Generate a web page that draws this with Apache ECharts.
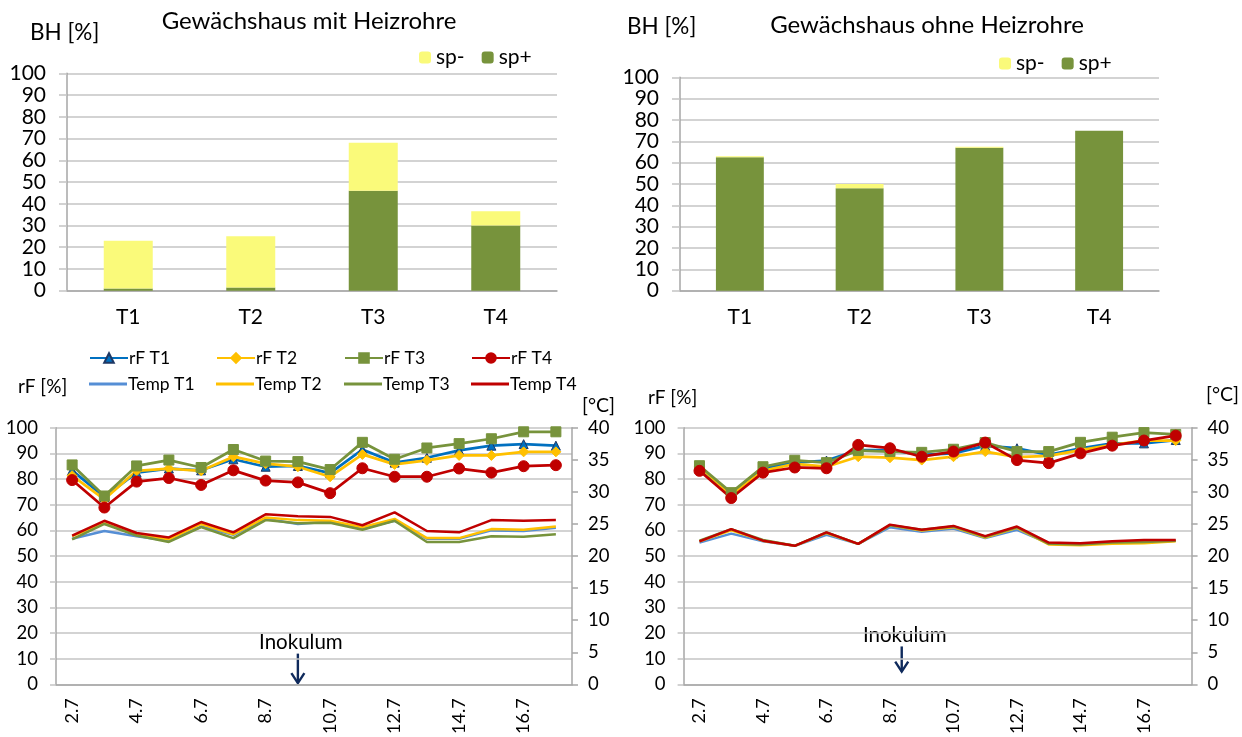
<!DOCTYPE html>
<html>
<head>
<meta charset="utf-8">
<script src="https://cdn.jsdelivr.net/npm/echarts@6/dist/echarts.min.js"></script>
<style>
html, body { margin: 0; padding: 0; background: #fff; }
#main { width: 1242px; height: 737px; }
</style>
</head>
<body>
<div id="main"></div>
<script>
// Befallshäufigkeit (BH) je Behandlung
const behandlungen = ['T1', 'T2', 'T3', 'T4']
const spPlusMit = [1, 1.5, 46, 30]
const spMinusMit = [22, 23.5, 22, 6.5]
const spPlusOhne = [62.5, 48, 67, 75]
const spMinusOhne = [0.5, 2, 0.5, 0]

// Tage
const tage = ['2.7', '3.7', '4.7', '5.7', '6.7', '7.7', '8.7', '9.7', '10.7', '11.7', '12.7', '13.7', '14.7', '15.7', '16.7', '17.7']

// mit Heizrohre
const rfT1Mit = [83.4, 73.0, 82.5, 84.1, 83.4, 87.7, 84.8, 85.1, 82.3, 91.5, 86.4, 88.3, 91.2, 93.0, 93.6, 93.0]
const rfT2Mit = [81.3, 72.1, 83.2, 84.1, 83.2, 88.7, 86.0, 84.8, 80.9, 89.6, 85.7, 87.3, 89.2, 89.2, 90.6, 90.6]
const rfT3Mit = [85.5, 73.4, 85.1, 87.4, 84.5, 91.5, 87.0, 86.8, 83.7, 94.3, 87.7, 92.1, 93.8, 95.7, 98.4, 98.4]
const rfT4Mit = [79.6, 68.9, 79.0, 80.4, 77.7, 83.4, 79.4, 78.7, 74.5, 84.2, 80.9, 80.9, 84.1, 82.5, 85.0, 85.4]
const tempT1Mit = [22.7, 23.9, 23.1, 22.4, 24.6, 23.3, 25.8, 25.0, 25.4, 24.3, 25.5, 22.7, 22.7, 24.0, 23.9, 24.4]
const tempT2Mit = [23.1, 25.1, 23.3, 22.6, 25.0, 23.4, 26.0, 25.6, 25.5, 24.5, 25.8, 22.8, 22.8, 24.2, 24.1, 24.6]
const tempT3Mit = [22.6, 25.0, 23.2, 22.2, 24.5, 22.8, 25.6, 25.1, 25.2, 24.1, 25.5, 22.2, 22.2, 23.1, 23.0, 23.4]
const tempT4Mit = [23.2, 25.5, 23.6, 22.9, 25.3, 23.7, 26.5, 26.2, 26.1, 24.8, 26.8, 23.9, 23.7, 25.6, 25.5, 25.6]

// ohne Heizrohre
const rfT1Ohne = [84.2, 74.1, 84.2, 86.4, 87.2, 91.3, 91.3, 89.4, 90.0, 92.9, 92.0, 89.4, 92.0, 93.9, 93.9, 95.2]
const rfT2Ohne = [84.8, 73.8, 83.2, 85.9, 84.8, 88.7, 88.3, 87.4, 88.7, 90.7, 88.5, 89.0, 91.3, 93.3, 95.0, 95.0]
const rfT3Ohne = [85.2, 74.7, 84.8, 87.3, 86.4, 91.1, 90.7, 90.4, 91.6, 94.2, 90.7, 90.7, 94.3, 96.3, 98.1, 97.4]
const rfT4Ohne = [83.2, 72.6, 82.5, 84.5, 84.2, 93.3, 92.0, 88.7, 90.7, 94.2, 87.4, 86.2, 90.0, 93.0, 95.0, 96.9]
const tempT1Ohne = [22.1, 23.5, 22.3, 21.6, 23.3, 21.9, 24.5, 23.8, 24.3, 22.8, 24.1, 22.0, 21.9, 22.1, 22.2, 22.4]
const tempT2Ohne = [22.3, 24.0, 22.4, 21.6, 23.6, 21.9, 24.8, 24.0, 24.5, 22.9, 24.4, 21.8, 21.7, 21.9, 22.0, 22.3]
const tempT3Ohne = [22.4, 24.2, 22.5, 21.6, 23.7, 21.9, 24.8, 24.1, 24.6, 23.0, 24.5, 21.9, 21.8, 22.1, 22.2, 22.4]
const tempT4Ohne = [22.3, 24.2, 22.4, 21.6, 23.7, 21.9, 24.9, 24.1, 24.7, 23.1, 24.6, 22.1, 22.0, 22.3, 22.5, 22.5]

// Inokulum: Tag und Lage zwischen den Kategorien (Anteil zum nächsten Tag)
const inokulum = [
  { tag: '9.7', frac: 0, von: 12, bis: 0.5 },
  { tag: '8.7', frac: 0.37, von: 14.8, bis: 5 },
]

const FONT = 'Lato, "Open Sans", sans-serif'
const GELB = '#FAFA7A'
const OLIV = '#77933C'
const BLAU = '#0070C0'
const HELLBLAU = '#558ED5'
const ORANGE = '#FFC000'
const ROT = '#C00000'
const GRID_LINE = '#C4C4C4'
const AXIS_LINE = '#A6A6A6'

const chart = echarts.init(document.getElementById('main'))

function barX(idx) {
  return {
    type: 'category',
    gridIndex: idx,
    data: behandlungen,
    axisLine: { lineStyle: { color: AXIS_LINE, width: 1.5 } },
    axisTick: { length: 7, lineStyle: { color: AXIS_LINE, width: 1.5 } },
    axisLabel: { color: '#000', fontFamily: FONT, fontSize: 21, margin: 16 },
  }
}
function barY(idx) {
  return {
    type: 'value',
    gridIndex: idx,
    min: 0,
    max: 100,
    interval: 10,
    axisLine: { show: true, lineStyle: { color: AXIS_LINE, width: 1.5 } },
    axisTick: { show: true, length: 8, lineStyle: { color: GRID_LINE, width: 1.5 } },
    splitLine: { lineStyle: { color: GRID_LINE, width: 1.5 } },
    axisLabel: { color: '#000', fontFamily: FONT, fontSize: 21, margin: 21 },
  }
}
function lineX(idx) {
  return {
    type: 'category',
    gridIndex: idx,
    data: tage,
    boundaryGap: true,
    axisLine: { lineStyle: { color: AXIS_LINE, width: 1.5 } },
    axisTick: { interval: 1, length: 7, lineStyle: { color: AXIS_LINE, width: 1.5 } },
    axisLabel: { interval: 1, rotate: 90, color: '#000', fontFamily: FONT, fontSize: 18, margin: 14 },
  }
}
function rfY(idx) {
  return {
    type: 'value',
    gridIndex: idx,
    min: 0,
    max: 100,
    interval: 10,
    axisLine: { show: true, lineStyle: { color: AXIS_LINE, width: 1.5 } },
    axisTick: { show: true, length: 6, lineStyle: { color: GRID_LINE, width: 1.5 } },
    splitLine: { lineStyle: { color: GRID_LINE, width: 1.5 } },
    axisLabel: { color: '#000', fontFamily: FONT, fontSize: 18.5, margin: 18 },
  }
}
function tempY(idx) {
  return {
    type: 'value',
    gridIndex: idx,
    position: 'right',
    min: 0,
    max: 40,
    interval: 5,
    axisLine: { show: true, lineStyle: { color: AXIS_LINE, width: 1.5 } },
    axisTick: { show: true, length: 6, lineStyle: { color: AXIS_LINE, width: 1.5 } },
    splitLine: { show: false },
    axisLabel: { color: '#000', fontFamily: FONT, fontSize: 18.5, margin: 16 },
  }
}

function bars(xi, plus, minus) {
  return [
    { name: 'sp+', type: 'bar', stack: 'bh' + xi, xAxisIndex: xi, yAxisIndex: xi, barWidth: '40%', data: plus, itemStyle: { color: OLIV } },
    { name: 'sp-', type: 'bar', stack: 'bh' + xi, xAxisIndex: xi, yAxisIndex: xi, barWidth: '40%', data: minus, itemStyle: { color: GELB } },
  ]
}

function rf(name, xi, yi, data, color, symbol, size, border) {
  return {
    name, type: 'line', xAxisIndex: xi, yAxisIndex: yi, data,
    symbol, symbolSize: size,
    lineStyle: { color, width: 2.75 },
    itemStyle: { color, borderColor: border || color, borderWidth: 1 },
  }
}
function temp(name, xi, yi, data, color) {
  return {
    name, type: 'line', xAxisIndex: xi, yAxisIndex: yi, data,
    symbol: 'none', showSymbol: false,
    lineStyle: { color, width: 2.5 },
    itemStyle: { color },
  }
}

function lines(xi, yRf, yT, d) {
  return [
    rf('rF T1', xi, yRf, d[0], BLAU, 'triangle', 9, '#1F3864'),
    rf('rF T2', xi, yRf, d[1], ORANGE, 'diamond', 10),
    rf('rF T3', xi, yRf, d[2], OLIV, 'rect', 10),
    rf('rF T4', xi, yRf, d[3], ROT, 'circle', 11),
    temp('Temp T1', xi, yT, d[4], HELLBLAU),
    temp('Temp T2', xi, yT, d[5], ORANGE),
    temp('Temp T3', xi, yT, d[6], OLIV),
    temp('Temp T4', xi, yT, d[7], ROT),
  ]
}

function legendItem(name, left, top, nurLinie) {
  return {
    data: [nurLinie ? { name, icon: 'rect' } : name],
    left, top, padding: 0,
    itemWidth: 38, itemHeight: nurLinie ? 3 : 12, itemGap: 0,
    selectedMode: false,
    textStyle: { color: '#000', fontFamily: FONT, fontSize: 17.5, padding: [0, 0, 0, -4] },
  }
}

function text(str, x, y, size, align) {
  return {
    type: 'text', x, y,
    style: { text: str, fill: '#000', font: size + 'px ' + FONT, textAlign: align || 'left', textVerticalAlign: 'middle' },
  }
}

const option = {
  animation: false,
  backgroundColor: '#fff',
  grid: [
    { left: 67, top: 73.3, width: 490, height: 217.4 },
    { left: 680, top: 77.3, width: 479, height: 213.4 },
    { left: 56, top: 427.7, width: 516, height: 261.6 },
    { left: 683.6, top: 427.7, width: 508, height: 257.3 },
  ],
  xAxis: [barX(0), barX(1), lineX(2), lineX(3)],
  yAxis: [barY(0), barY(1), rfY(2), tempY(2), rfY(3), tempY(3)],
  legend: [
    { data: ['sp-', 'sp+'], left: 419, top: 47, padding: 0, itemWidth: 12, itemHeight: 12, itemGap: 17, selectedMode: false, textStyle: { color: '#000', fontFamily: FONT, fontSize: 21 } },
    { data: ['sp-', 'sp+'], left: 999, top: 53, padding: 0, itemWidth: 12, itemHeight: 12, itemGap: 17, selectedMode: false, textStyle: { color: '#000', fontFamily: FONT, fontSize: 21 } },
    legendItem('rF T1', 89, 349),
    legendItem('rF T2', 216, 349),
    legendItem('rF T3', 344, 349),
    legendItem('rF T4', 471, 349),
    legendItem('Temp T1', 89, 375, true),
    legendItem('Temp T2', 216, 375, true),
    legendItem('Temp T3', 344, 375, true),
    legendItem('Temp T4', 471, 375, true),
  ],
  graphic: [
    text('Gewächshaus mit Heizrohre', 309, 21, 24, 'center'),
    text('Gewächshaus ohne Heizrohre', 927, 25, 24, 'center'),
    text('BH [%]', 30, 33, 22.5),
    text('BH [%]', 627, 27, 22.5),
    text('rF [%]', 18, 387, 19),
    text('rF [%]', 648, 398, 19),
    text('[°C]', 582, 406, 19.5),
    text('[°C]', 1206, 395, 19.5),
  ],
  series: [
    ...bars(0, spPlusMit, spMinusMit),
    ...bars(1, spPlusOhne, spMinusOhne),
    ...lines(2, 2, 3, [rfT1Mit, rfT2Mit, rfT3Mit, rfT4Mit, tempT1Mit, tempT2Mit, tempT3Mit, tempT4Mit]),
    ...lines(3, 4, 5, [rfT1Ohne, rfT2Ohne, rfT3Ohne, rfT4Ohne, tempT1Ohne, tempT2Ohne, tempT3Ohne, tempT4Ohne]),
  ],
}

chart.setOption(option)

// Inokulum-Pfeile über die Achsen positionieren
const pfeile = []
inokulum.forEach((ino, i) => {
  const grid = 2 + i
  const k = tage.indexOf(ino.tag)
  const p0 = chart.convertToPixel({ gridIndex: grid }, [k, ino.von])
  const p1 = chart.convertToPixel({ gridIndex: grid }, [k + 1, ino.bis])
  const x = p0[0] + (p1[0] - p0[0]) * ino.frac
  const yTop = p0[1]
  const yEnd = p1[1]
  pfeile.push(text('Inokulum', x + 3, yTop - 11, 20.5, 'center'))
  pfeile.push({
    type: 'line',
    shape: { x1: x, y1: yTop, x2: x, y2: yEnd },
    style: { stroke: '#0F2A5C', lineWidth: 2.4 },
  })
  pfeile.push({
    type: 'polyline',
    shape: { points: [[x - 6.5, yEnd - 10], [x, yEnd], [x + 6.5, yEnd - 10]] },
    style: { stroke: '#0F2A5C', lineWidth: 2.4, fill: null },
  })
})
chart.setOption({ graphic: option.graphic.concat(pfeile) })
</script>
</body>
</html>
